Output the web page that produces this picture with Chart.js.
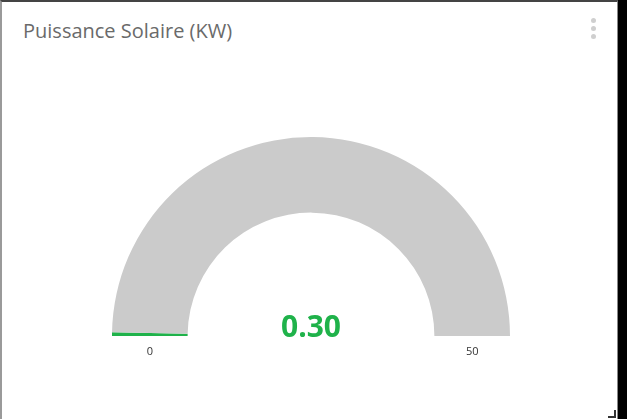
<!DOCTYPE html>
<html>
<head>
<meta charset="utf-8">
<script src="https://cdn.jsdelivr.net/npm/chart.js@4.4.1/dist/chart.umd.min.js"></script>
<style>
  html, body { margin: 0; padding: 0; }
  body { width: 627px; height: 419px; background: #000; position: relative; overflow: hidden; }
  .card {
    position: absolute; left: 0; top: 0; width: 615px; height: 419px;
    background: #fff; border-left: 2px solid #9a9a9a; border-top: 2px solid #444;
    border-right: 1px solid #888;
  }
  .title {
    position: absolute; left: 21px; top: 15px;
    font-family: 'Open Sans', sans-serif; font-size: 20px; color: #6a6a6a;
  }
  .menu { position: absolute; left: 589px; top: 16px; width: 6px; }
  .menu span { display: block; width: 5px; height: 5px; border-radius: 50%; background: #cfcfcf; margin-bottom: 3px; }
  .grip { position: absolute; left: 606px; top: 408px; width: 6px; height: 6px; border-right: 2px solid #333; border-bottom: 2px solid #333; }
  canvas { position: absolute; left: 0; top: 0; }
</style>
</head>
<body>
<div class="card">
  <div class="title">Puissance Solaire (KW)</div>
  <div class="menu"><span></span><span></span><span></span></div>
  <div class="grip"></div>
  <canvas id="gauge" width="615" height="417"></canvas>
</div>
<script>
// Gauge data
const gaugeMin = 0;
const gaugeMax = 50;
const gaugeValue = 0.30;
const gaugeColors = ['#1fb24a', '#cbcbcb'];

const valueColor = '#1fb24a';

// draws value and min / max labels using the arc geometry
const gaugeText = {
  id: 'gaugeText',
  afterDraw(chart) {
    const arc = chart.getDatasetMeta(0).data[0];
    if (!arc) return;
    const ctx = chart.ctx;
    const cx = arc.x, cy = arc.y;
    const mid = (arc.outerRadius + arc.innerRadius) / 2;
    ctx.save();
    ctx.textAlign = 'center';
    ctx.textBaseline = 'alphabetic';
    ctx.fillStyle = valueColor;
    ctx.font = "bold 30px 'Open Sans', sans-serif";
    ctx.fillText(gaugeValue.toFixed(2), cx, cy + 1);
    ctx.fillStyle = '#333';
    ctx.font = "11px 'Open Sans', sans-serif";
    ctx.textBaseline = 'middle';
    ctx.fillText(String(gaugeMin), cx - mid, cy + 16);
    ctx.fillText(String(gaugeMax), cx + mid, cy + 16);
    ctx.restore();
  }
};

const gaugeCtx = document.getElementById('gauge').getContext('2d');
const gaugeChart = new Chart(gaugeCtx, {
  type: 'doughnut',
  data: {
    datasets: [{
      data: [gaugeValue - gaugeMin, gaugeMax - gaugeValue],
      backgroundColor: gaugeColors,
      borderWidth: 0
    }]
  },
  options: {
    responsive: false,
    animation: false,
    rotation: -90,
    circumference: 180,
    cutout: '62%',
    layout: { padding: { left: 110, top: 135, right: 107, bottom: 83 } },
    plugins: { legend: { display: false }, tooltip: { enabled: false } }
  },
  plugins: [gaugeText]
});
</script>
</body>
</html>
